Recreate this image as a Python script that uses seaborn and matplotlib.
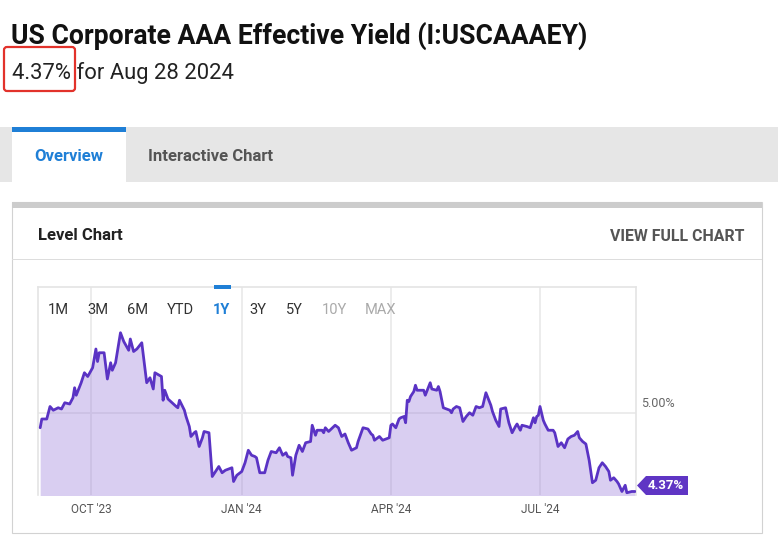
import pandas as pd
import matplotlib
matplotlib.use("Agg")
import matplotlib.pyplot as plt
import matplotlib.dates as mdates
from matplotlib.patches import Rectangle, FancyBboxPatch, Polygon
from matplotlib.transforms import IdentityTransform
import seaborn as sns

# --- data ---
dates = [
    "2023-08-31", "2023-09-01", "2023-09-04", "2023-09-06", "2023-09-08", "2023-09-11", "2023-09-13", "2023-09-15",
    "2023-09-18", "2023-09-20", "2023-09-21", "2023-09-22", "2023-09-25", "2023-09-27", "2023-09-29",
    "2023-10-02", "2023-10-04", "2023-10-05", "2023-10-06", "2023-10-09", "2023-10-11", "2023-10-13", "2023-10-14",
    "2023-10-16", "2023-10-19", "2023-10-21", "2023-10-24", "2023-10-25", "2023-10-27", "2023-10-29",
    "2023-11-01", "2023-11-04", "2023-11-06", "2023-11-08", "2023-11-09", "2023-11-13", "2023-11-14", "2023-11-15",
    "2023-11-17", "2023-11-22", "2023-11-23", "2023-11-24", "2023-11-27", "2023-11-28", "2023-11-30",
    "2023-12-01", "2023-12-03", "2023-12-04", "2023-12-06", "2023-12-08", "2023-12-09", "2023-12-12", "2023-12-14",
    "2023-12-16", "2023-12-18", "2023-12-20", "2023-12-22", "2023-12-24", "2023-12-26", "2023-12-27", "2023-12-29",
    "2024-01-01", "2024-01-03", "2024-01-05", "2024-01-07", "2024-01-09", "2024-01-10", "2024-01-12", "2024-01-15",
    "2024-01-17", "2024-01-19", "2024-01-22", "2024-01-24", "2024-01-26", "2024-01-28", "2024-01-29", "2024-01-31",
    "2024-02-01", "2024-02-03", "2024-02-05", "2024-02-07", "2024-02-09", "2024-02-12", "2024-02-13", "2024-02-15",
    "2024-02-16", "2024-02-19", "2024-02-20", "2024-02-21", "2024-02-23", "2024-02-27", "2024-02-29",
    "2024-03-02", "2024-03-04", "2024-03-06", "2024-03-08", "2024-03-11", "2024-03-12", "2024-03-15", "2024-03-18",
    "2024-03-20", "2024-03-21", "2024-03-22", "2024-03-25", "2024-03-27", "2024-03-29", "2024-03-31",
    "2024-04-01", "2024-04-02", "2024-04-04", "2024-04-06", "2024-04-07", "2024-04-09", "2024-04-10", "2024-04-11",
    "2024-04-12", "2024-04-13", "2024-04-15", "2024-04-16", "2024-04-17", "2024-04-19", "2024-04-21", "2024-04-22",
    "2024-04-25", "2024-04-26", "2024-04-29", "2024-04-30",
    "2024-05-01", "2024-05-03", "2024-05-05", "2024-05-07", "2024-05-08", "2024-05-09", "2024-05-11", "2024-05-13",
    "2024-05-15", "2024-05-17", "2024-05-19", "2024-05-21", "2024-05-23", "2024-05-25", "2024-05-27", "2024-05-29",
    "2024-06-01", "2024-06-02", "2024-06-04", "2024-06-06", "2024-06-07", "2024-06-10", "2024-06-12", "2024-06-14",
    "2024-06-16", "2024-06-17", "2024-06-19", "2024-06-20", "2024-06-23", "2024-06-25", "2024-06-27", "2024-06-28",
    "2024-06-29", "2024-06-30",
    "2024-07-01", "2024-07-03", "2024-07-04", "2024-07-06", "2024-07-09", "2024-07-10", "2024-07-12", "2024-07-14",
    "2024-07-16", "2024-07-18", "2024-07-20", "2024-07-22", "2024-07-24", "2024-07-25", "2024-07-27", "2024-07-29",
    "2024-07-31",
    "2024-08-02", "2024-08-04", "2024-08-06", "2024-08-08", "2024-08-10", "2024-08-12", "2024-08-13", "2024-08-15",
    "2024-08-17", "2024-08-18", "2024-08-20", "2024-08-22", "2024-08-23", "2024-08-26", "2024-08-28",
]
yields = [
    4.88, 4.95, 4.95, 5.05, 5.02, 5.04, 5.03, 5.08, 5.07, 5.12, 5.20, 5.14, 5.24, 5.32, 5.29,
    5.36, 5.51, 5.41, 5.48, 5.48, 5.27, 5.40, 5.34, 5.40, 5.64, 5.57, 5.50, 5.59, 5.49, 5.51,
    5.56, 5.24, 5.28, 5.19, 5.32, 5.29, 5.10, 5.18, 5.11, 5.05, 5.04, 5.10, 5.02, 4.97, 4.89,
    4.81, 4.84, 4.85, 4.73, 4.80, 4.85, 4.84, 4.49, 4.53, 4.57, 4.52, 4.54, 4.55, 4.56, 4.45, 4.50,
    4.53, 4.60, 4.70, 4.66, 4.65, 4.64, 4.52, 4.52, 4.62, 4.69, 4.68, 4.72, 4.66, 4.68, 4.65, 4.64,
    4.50, 4.66, 4.74, 4.69, 4.76, 4.77, 4.90, 4.82, 4.86, 4.86, 4.84, 4.88, 4.85, 4.90, 4.88,
    4.81, 4.83, 4.76, 4.70, 4.72, 4.77, 4.88, 4.87, 4.83, 4.82, 4.78, 4.81, 4.78, 4.79, 4.80,
    4.90, 4.91, 4.88, 4.95, 4.96, 4.97, 4.92, 5.10, 5.09, 5.13, 5.17, 5.22, 5.18, 5.18, 5.18, 5.14,
    5.24, 5.19, 5.18, 5.21,
    5.17, 5.04, 5.03, 5.02, 5.00, 5.03, 5.05, 5.04, 4.93, 4.97, 5.00, 4.98, 5.05, 5.04, 5.05, 5.16,
    5.06, 5.01, 4.94, 4.89, 5.03, 5.04, 4.92, 4.84, 4.89, 4.91, 4.86, 4.90, 4.89, 4.88, 4.96, 4.92,
    4.97, 4.98,
    5.05, 4.94, 4.91, 4.86, 4.86, 4.84, 4.73, 4.76, 4.72, 4.79, 4.81, 4.82, 4.85, 4.80, 4.77, 4.75, 4.62,
    4.44, 4.46, 4.56, 4.60, 4.57, 4.53, 4.46, 4.48, 4.45, 4.43, 4.37, 4.42, 4.36, 4.37, 4.37,
]
tick_dates = ["2023-10-01", "2024-01-01", "2024-04-01", "2024-07-01"]
tick_labels = ["OCT '23", "JAN '24", "APR '24", "JUL '24"]
periods = ["1M", "3M", "6M", "YTD", "1Y", "3Y", "5Y", "10Y", "MAX"]

df = pd.DataFrame({"date": pd.to_datetime(dates), "yield": yields})

sns.set_theme(style="white")
plt.rcParams['font.family'] = ['Roboto', 'DejaVu Sans']

W, H = 778, 547
LINE = "#5a33c4"
BLUE = "#1f7fd6"

fig = plt.figure(figsize=(W / 100, H / 100), dpi=100)
fig.patch.set_facecolor("white")


def box(x0, y0, x1, y1, **kw):
    # rectangle in pixels, measured from the top-left corner
    fig.add_artist(Rectangle((x0, H - y1), x1 - x0, y1 - y0,
                             transform=IdentityTransform(), **kw))


def label(x, y, s, **kw):
    fig.text(x / W, 1 - y / H, s, va="baseline", **kw)


# header
label(11, 44, "US Corporate AAA Effective Yield (I:USCAAAEY)",
      fontsize=19.2, fontweight="bold", color="#111111")
label(12, 79, "4.37% for Aug 28 2024", fontsize=15.8, color="#222222")
fig.add_artist(FancyBboxPatch((4, H - 91), 71, 44, boxstyle="round,pad=0,rounding_size=3",
                              transform=IdentityTransform(), fc="none", ec="#e2322b", lw=1.6))

# tabs
box(0, 127, W, 182, fc="#e6e6e6", ec="none", zorder=-3)
box(12, 127, 126, 182, fc="white", ec="none", zorder=-2)
box(12, 127, 126, 132, fc=BLUE, ec="none", zorder=-1)
label(69, 161, "Overview", fontsize=12, fontweight="bold", color=BLUE, ha="center")
label(148, 161, "Interactive Chart", fontsize=12, fontweight="bold", color="#555555")

# card
box(12, 202, 762, 533, fc="white", ec="#d2d2d2", lw=0.8, zorder=-3)
box(12, 202, 762, 208, fc="#cccccc", ec="none", zorder=-2)
box(12, 259, 762, 260, fc="#dddddd", ec="none", zorder=-2)
label(38, 240, "Level Chart", fontsize=12, fontweight="bold", color="#222222")
label(745, 241, "VIEW FULL CHART", fontsize=11.4, fontweight="bold", color="#555555", ha="right")

# chart
ax = fig.add_axes([38 / W, (H - 495) / H, 598 / W, 208.5 / H])
ax.set_facecolor("none")
sns.lineplot(data=df, x="date", y="yield", ax=ax, color=LINE, lw=2.0, zorder=3)
ax.fill_between(df["date"], df["yield"], 4.0, color="#9b7fdc", alpha=0.38, lw=0, zorder=2)
ax.set_xlim(pd.Timestamp("2023-08-29 16:00"), pd.Timestamp("2024-08-28 14:00"))
ax.set_ylim(4.342, 6.01)
ax.set_xticks(pd.to_datetime(tick_dates))
ax.set_xticklabels(tick_labels, fontsize=8.5, color="#555555")
ax.set_yticks([5.0])
ax.set_yticklabels([])
ax.tick_params(length=0, pad=6)
ax.set_xlabel("")
ax.set_ylabel("")
ax.grid(True, color="#ebebeb", lw=1.3)
ax.set_axisbelow(True)
for side in ["left", "top", "right"]:
    ax.spines[side].set_color("#e4e4e4")
    ax.spines[side].set_linewidth(1.2)
ax.spines["bottom"].set_visible(False)
ax.annotate("5.00%", xy=(1, 5.0), xycoords=("axes fraction", "data"),
            xytext=(4, 2), textcoords="offset points", fontsize=9, color="#666666",
            va="bottom", ha="left")

# range buttons
xs = [58, 98, 138, 180, 222, 258, 294, 334, 381]
for x, p in zip(xs, periods):
    if p == "1Y":
        label(x, 314, p, fontsize=10.5, fontweight="bold", color=BLUE, ha="center")
    elif p in ("10Y", "MAX"):
        label(x, 314, p, fontsize=10.5, color="#aaaaaa", ha="center")
    else:
        label(x, 314, p, fontsize=10.5, color="#333333", ha="center")
box(214, 285, 231, 289, fc=BLUE, ec="none", zorder=5)

# last value tag, clamped to the plot bottom
last = df.iloc[-1]
_, yd = ax.transData.transform((mdates.date2num(last["date"]), last["yield"]))
x0 = 636
yc = max(yd, (H - 495) + 9.5)
fig.add_artist(Polygon([(x0 + 1, yc), (x0 + 10, yc + 9.5), (x0 + 52, yc + 9.5),
                        (x0 + 52, yc - 9.5), (x0 + 10, yc - 9.5)],
                       closed=True, transform=IdentityTransform(), fc="#5f35c4", ec="none"))
fig.text((x0 + 30) / W, yc / H, f"{last['yield']:.2f}%", fontsize=9.5, fontweight="bold",
         color="white", ha="center", va="center")

fig.savefig("out.png", dpi=100)
